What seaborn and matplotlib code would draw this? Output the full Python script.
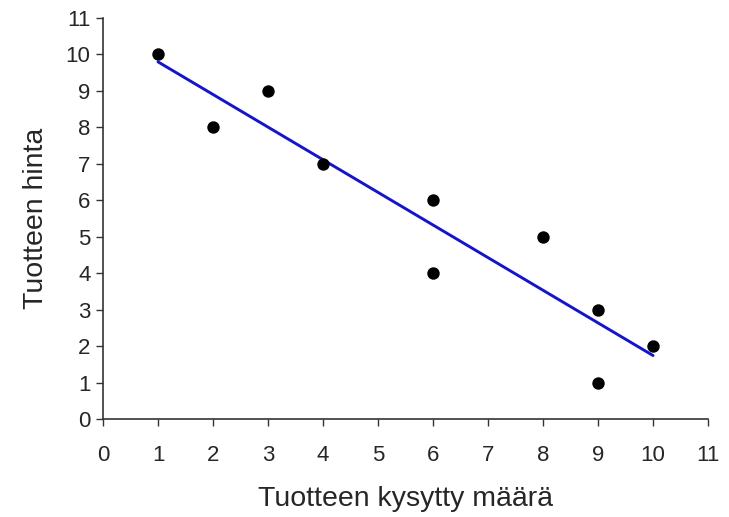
import matplotlib
matplotlib.use("Agg")
import matplotlib.pyplot as plt
import seaborn as sns
import pandas as pd

# demand vs price
kysytty_maara = [1, 2, 3, 4, 6, 6, 8, 9, 9, 10]
hinta = [10, 8, 9, 7, 6, 4, 5, 3, 1, 2]
ticks = list(range(0, 12))

df = pd.DataFrame({"maara": kysytty_maara, "hinta": hinta})

sns.set_style("ticks")
plt.rcParams["font.family"] = ["Liberation Sans", "DejaVu Sans"]

fig = plt.figure(figsize=(7.29, 5.17), dpi=100)
ax = fig.add_axes([0.1413, 0.1896, 0.830, 0.7756])

sns.regplot(
    data=df,
    x="maara",
    y="hinta",
    ci=None,
    ax=ax,
    truncate=True,
    scatter_kws={"s": 80, "color": "black", "alpha": 1, "zorder": 3, "linewidths": 0},
    line_kws={"color": "#1414cc", "linewidth": 2.1, "zorder": 2},
)

ax.set_xlim(0, 11)
ax.set_ylim(0, 11)
ax.set_xticks(ticks)
ax.set_yticks(ticks)
ax.tick_params(labelsize=16, length=5, width=1, color="#333333")
ax.tick_params(axis="x", pad=14)
ax.tick_params(axis="y", pad=4)
for side in ["left", "bottom"]:
    ax.spines[side].set_color("#333333")
    ax.spines[side].set_linewidth(1.2)
sns.despine(ax=ax)

ax.set_xlabel("Tuotteen kysytty määrä", fontsize=20.5, labelpad=14)
ax.set_ylabel("Tuotteen hinta", fontsize=20.5, labelpad=12)

fig.savefig("out.png", dpi=100)
